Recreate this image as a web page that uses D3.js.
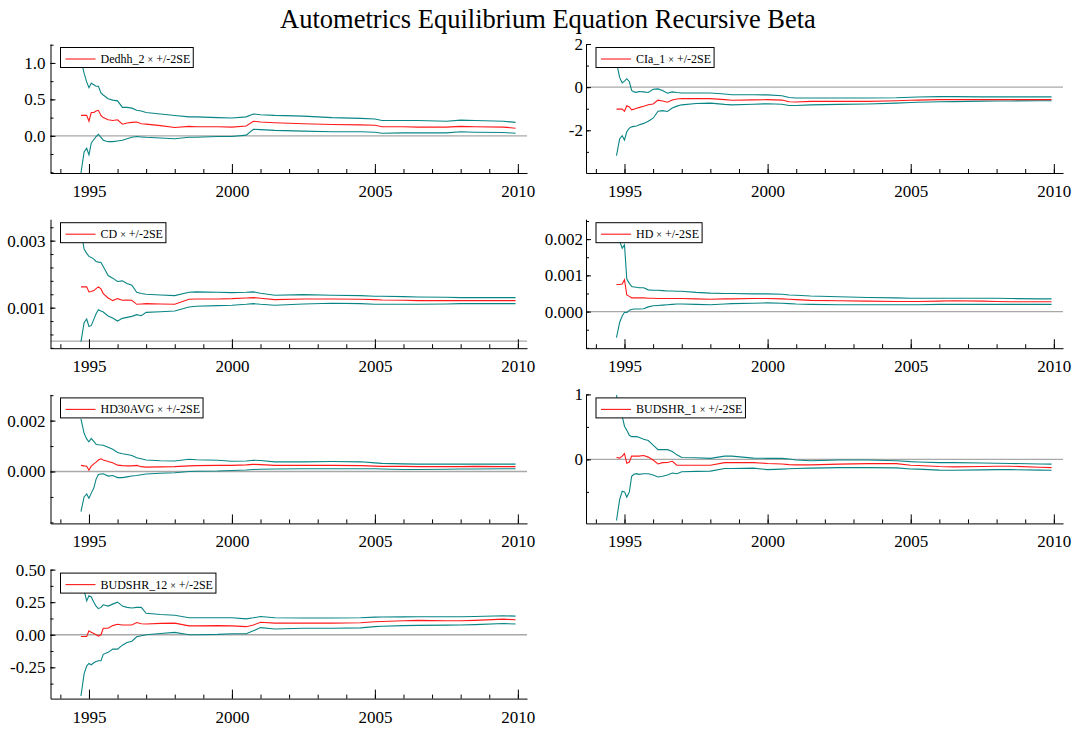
<!DOCTYPE html>
<html>
<head>
<meta charset="utf-8">
<script src="https://cdn.jsdelivr.net/npm/d3@7"></script>
<style>
  body { margin: 0; background: #ffffff; }
  svg { display: block; }
</style>
</head>
<body>
<svg id="chart" width="1074" height="731"></svg>
<script>
// Sample dates (decimal years) shared by every recursive estimate
const dates = [1994.72, 1994.83, 1994.92, 1995.0, 1995.08, 1995.17, 1995.25, 1995.33, 1995.42, 1995.5,
  1995.67, 1995.83, 1996.0, 1996.17, 1996.33, 1996.5, 1996.67, 1996.83, 1997.0, 1997.5,
  1998.0, 1998.5, 1998.75, 1999.5, 2000.0, 2000.5, 2000.75, 2001.0, 2001.5, 2002.5,
  2003.5, 2004.5, 2005.0, 2005.25, 2006.0, 2006.5, 2007.5, 2008.0, 2008.5, 2009.5, 2009.92];

// Dedhh_2
const dedhhBeta = [0.28, 0.28, 0.28, 0.20, 0.32, 0.32, 0.34, 0.35, 0.28, 0.25, 0.22, 0.21, 0.22, 0.16, 0.175, 0.185, 0.19, 0.165, 0.16, 0.14,
  0.115, 0.13, 0.125, 0.125, 0.12, 0.135, 0.20, 0.19, 0.18, 0.165, 0.155, 0.15, 0.145, 0.125, 0.125, 0.12, 0.12, 0.13, 0.125, 0.12, 0.105];
const dedhhUpper = [1.04, 0.86, 0.74, 0.66, 0.72, 0.70, 0.68, 0.68, 0.59, 0.56, 0.51, 0.49, 0.48, 0.39, 0.39, 0.38, 0.35, 0.34, 0.32, 0.30,
  0.28, 0.26, 0.26, 0.25, 0.245, 0.26, 0.30, 0.29, 0.28, 0.27, 0.25, 0.24, 0.23, 0.21, 0.21, 0.21, 0.20, 0.215, 0.21, 0.20, 0.185];
const dedhhLower = [-0.51, -0.22, -0.17, -0.26, -0.10, -0.05, -0.01, 0.02, -0.02, -0.06, -0.08, -0.08, -0.07, -0.06, -0.04, -0.02, -0.01, -0.015, -0.02, -0.03,
  -0.04, -0.02, -0.02, -0.01, -0.01, 0.01, 0.09, 0.085, 0.075, 0.065, 0.055, 0.055, 0.05, 0.035, 0.04, 0.04, 0.04, 0.055, 0.05, 0.045, 0.035];

// CIa_1
const ciaBeta = [-1.02, -1.02, -1.02, -1.12, -0.86, -0.92, -1.05, -1.02, -0.98, -0.95, -0.89, -0.82, -0.78, -0.60, -0.64, -0.70, -0.60, -0.55, -0.53, -0.53,
  -0.53, -0.58, -0.61, -0.59, -0.58, -0.60, -0.68, -0.69, -0.66, -0.66, -0.66, -0.63, -0.61, -0.60, -0.58, -0.58, -0.58, -0.58, -0.58, -0.58, -0.58];
const ciaUpper = [1.15, 0.45, 0.20, 0.28, 0.39, 0.25, -0.15, -0.22, -0.24, -0.20, -0.22, -0.25, -0.10, -0.08, -0.16, -0.28, -0.22, -0.25, -0.27, -0.27,
  -0.27, -0.32, -0.35, -0.35, -0.36, -0.40, -0.48, -0.50, -0.50, -0.50, -0.50, -0.49, -0.47, -0.46, -0.44, -0.44, -0.45, -0.45, -0.45, -0.45, -0.45];
const ciaLower = [-3.17, -2.40, -2.25, -2.45, -2.07, -1.90, -1.84, -1.82, -1.80, -1.76, -1.68, -1.58, -1.44, -1.12, -1.09, -1.13, -0.97, -0.88, -0.82, -0.76,
  -0.74, -0.80, -0.82, -0.79, -0.77, -0.79, -0.85, -0.85, -0.82, -0.80, -0.78, -0.74, -0.71, -0.70, -0.68, -0.67, -0.65, -0.64, -0.64, -0.63, -0.63];

// CD
const cdBeta = [0.00162, 0.00162, 0.00162, 0.00147, 0.00148, 0.00151, 0.00157, 0.00162, 0.00156, 0.00142, 0.00129, 0.00121, 0.00127, 0.00122, 0.00123, 0.00122, 0.00110, 0.00111, 0.00112, 0.00111,
  0.00110, 0.00125, 0.00126, 0.00126, 0.00127, 0.00129, 0.00130, 0.00128, 0.00124, 0.00126, 0.00126, 0.00125, 0.00124, 0.00123, 0.00122, 0.00121, 0.00121, 0.00121, 0.00121, 0.00121, 0.00121];
const cdUpper = [0.00331, 0.00275, 0.00262, 0.00253, 0.00250, 0.00245, 0.00238, 0.00236, 0.00235, 0.00223, 0.00196, 0.00188, 0.00178, 0.00180, 0.00172, 0.00167, 0.00146, 0.00142, 0.00140, 0.00138,
  0.00136, 0.00146, 0.00147, 0.00146, 0.00145, 0.00146, 0.00147, 0.00143, 0.00137, 0.00139, 0.00137, 0.00136, 0.00134, 0.00134, 0.00133, 0.00132, 0.00131, 0.00130, 0.00130, 0.00130, 0.00130];
const cdLower = [-0.00002, 0.00055, 0.00066, 0.00044, 0.00047, 0.00065, 0.00082, 0.00094, 0.00090, 0.00087, 0.00075, 0.00069, 0.00060, 0.00068, 0.00071, 0.00074, 0.00079, 0.00076, 0.00086, 0.00088,
  0.00090, 0.00102, 0.00104, 0.00106, 0.00107, 0.00110, 0.00112, 0.00110, 0.00107, 0.00111, 0.00113, 0.00112, 0.00110, 0.00110, 0.00110, 0.00110, 0.00111, 0.00112, 0.00112, 0.00112, 0.00112];

// HD
const hdBeta = [0.00075, 0.00075, 0.00076, 0.00088, 0.00046, 0.00042, 0.00038, 0.00038, 0.00038, 0.00038, 0.00038, 0.00037, 0.00037, 0.00036, 0.00036, 0.00036, 0.00036, 0.00036, 0.00036, 0.00035,
  0.00034, 0.00035, 0.00035, 0.00036, 0.00036, 0.00035, 0.00034, 0.00033, 0.00031, 0.00030, 0.00029, 0.00028, 0.00028, 0.00028, 0.00029, 0.00030, 0.00029, 0.00028, 0.00027, 0.00027, 0.00027];
const hdUpper = [0.00224, 0.00195, 0.00175, 0.00184, 0.00090, 0.00078, 0.00069, 0.00068, 0.00067, 0.00066, 0.00066, 0.00060, 0.00059, 0.00059, 0.00058, 0.00057, 0.00057, 0.00056, 0.00056, 0.00053,
  0.00051, 0.00050, 0.00050, 0.00049, 0.00049, 0.00048, 0.00046, 0.00045, 0.00043, 0.00041, 0.00039, 0.00038, 0.00037, 0.00037, 0.00037, 0.00037, 0.00037, 0.00037, 0.00036, 0.00035, 0.00035];
const hdLower = [-0.00072, -0.00030, -0.00012, -0.00002, -0.00003, 0.00004, 0.00006, 0.00007, 0.00007, 0.00007, 0.00008, 0.00013, 0.00016, 0.00017, 0.00018, 0.00019, 0.00020, 0.00021, 0.00021, 0.00020,
  0.00019, 0.00021, 0.00022, 0.00023, 0.00024, 0.00023, 0.00022, 0.00021, 0.00020, 0.00019, 0.00019, 0.00019, 0.00019, 0.00019, 0.00020, 0.00020, 0.00020, 0.00020, 0.00020, 0.00020, 0.00020];

// HD30AVG
const hd30Beta = [0.00024, 0.00022, 0.00021, 0.00005, 0.00021, 0.00030, 0.00037, 0.00045, 0.00050, 0.00045, 0.00039, 0.00034, 0.00025, 0.00023, 0.00022, 0.00022, 0.00024, 0.00019, 0.00017, 0.00018,
  0.00019, 0.00022, 0.00023, 0.00024, 0.00024, 0.00026, 0.00028, 0.00027, 0.00024, 0.00024, 0.00024, 0.00023, 0.00021, 0.00020, 0.00020, 0.00019, 0.00019, 0.00019, 0.00020, 0.00019, 0.00019];
const hd30Upper = [0.00207, 0.00150, 0.00128, 0.00117, 0.00130, 0.00118, 0.00107, 0.00105, 0.00104, 0.00103, 0.00095, 0.00087, 0.00075, 0.00070, 0.00067, 0.00063, 0.00054, 0.00050, 0.00045, 0.00042,
  0.00041, 0.00048, 0.00046, 0.00044, 0.00040, 0.00041, 0.00044, 0.00043, 0.00038, 0.00038, 0.00039, 0.00038, 0.00034, 0.00032, 0.00030, 0.00029, 0.00029, 0.00029, 0.00029, 0.00029, 0.00029];
const hd30Lower = [-0.00158, -0.00100, -0.00088, -0.00105, -0.00085, -0.00065, -0.00030, -0.00012, -0.00010, -0.00009, -0.00018, -0.00016, -0.00024, -0.00024, -0.00021, -0.00018, -0.00016, -0.00013, -0.00010, -0.00007,
  -0.00005, 0.00000, 0.00001, 0.00002, 0.00004, 0.00006, 0.00008, 0.00009, 0.00010, 0.00011, 0.00011, 0.00011, 0.00011, 0.00010, 0.00008, 0.00008, 0.00009, 0.00010, 0.00010, 0.00011, 0.00011];

// BUDSHR_1
const bud1Beta = [0.03, 0.02, 0.05, 0.09, -0.06, -0.04, 0.05, 0.05, 0.05, 0.05, 0.06, 0.035, -0.01, -0.07, -0.05, -0.047, -0.03, -0.09, -0.09, -0.09,
  -0.09, -0.05, -0.05, -0.05, -0.063, -0.07, -0.08, -0.085, -0.085, -0.073, -0.065, -0.065, -0.09, -0.095, -0.11, -0.115, -0.11, -0.105, -0.105, -0.12, -0.126];
const bud1Upper = [0.99, 0.75, 0.66, 0.51, 0.45, 0.37, 0.35, 0.35, 0.35, 0.34, 0.31, 0.29, 0.22, 0.15, 0.15, 0.15, 0.12, 0.07, 0.03, 0.025,
  0.016, 0.05, 0.05, 0.02, 0.016, 0.016, 0.005, -0.01, -0.02, -0.01, -0.01, -0.02, -0.035, -0.04, -0.05, -0.05, -0.055, -0.06, -0.063, -0.07, -0.073];
const bud1Lower = [-0.94, -0.62, -0.49, -0.50, -0.58, -0.50, -0.26, -0.23, -0.22, -0.23, -0.22, -0.22, -0.24, -0.27, -0.26, -0.24, -0.21, -0.22, -0.19, -0.185,
  -0.18, -0.14, -0.14, -0.135, -0.157, -0.15, -0.145, -0.14, -0.135, -0.126, -0.126, -0.13, -0.147, -0.15, -0.165, -0.168, -0.162, -0.157, -0.157, -0.165, -0.168];

// BUDSHR_12
const bud12Beta = [-0.013, -0.013, -0.013, 0.03, 0.02, 0.01, 0.00, -0.01, 0.00, 0.05, 0.05, 0.07, 0.08, 0.075, 0.075, 0.075, 0.094, 0.085, 0.083, 0.087,
  0.089, 0.068, 0.068, 0.07, 0.068, 0.062, 0.075, 0.096, 0.089, 0.089, 0.089, 0.092, 0.10, 0.102, 0.107, 0.11, 0.108, 0.107, 0.11, 0.12, 0.115];
const bud12Upper = [0.44, 0.34, 0.26, 0.30, 0.29, 0.25, 0.22, 0.20, 0.21, 0.23, 0.22, 0.235, 0.25, 0.22, 0.21, 0.205, 0.21, 0.21, 0.165, 0.155,
  0.15, 0.13, 0.13, 0.13, 0.13, 0.122, 0.13, 0.14, 0.13, 0.128, 0.128, 0.13, 0.135, 0.136, 0.137, 0.138, 0.138, 0.138, 0.14, 0.146, 0.143];
const bud12Lower = [-0.47, -0.30, -0.24, -0.22, -0.23, -0.215, -0.205, -0.20, -0.20, -0.15, -0.135, -0.11, -0.11, -0.08, -0.06, -0.05, -0.016, -0.008, 0.0, 0.01,
  0.018, 0.0, 0.0, 0.003, 0.008, 0.008, 0.03, 0.055, 0.044, 0.05, 0.05, 0.053, 0.062, 0.065, 0.07, 0.072, 0.074, 0.075, 0.078, 0.086, 0.083];

const names = ["Dedhh_2", "CIa_1", "CD", "HD", "HD30AVG", "BUDSHR_1", "BUDSHR_12"];
const betas = [dedhhBeta, ciaBeta, cdBeta, hdBeta, hd30Beta, bud1Beta, bud12Beta];
const uppers = [dedhhUpper, ciaUpper, cdUpper, hdUpper, hd30Upper, bud1Upper, bud12Upper];
const lowers = [dedhhLower, ciaLower, cdLower, hdLower, hd30Lower, bud1Lower, bud12Lower];

// Axis extents and tick labels
const yDomains = [[-0.51, 1.26], [-3.98, 2.0], [-0.00021, 0.00364], [-0.00101, 0.00255],
  [-0.00204, 0.00303], [-0.985, 1.0], [-0.49, 0.5]];
const yLabelTicks = [[0, 0.5, 1.0], [-2, 0, 2], [0.001, 0.003], [0, 0.001, 0.002],
  [0, 0.002], [0, 1], [-0.25, 0, 0.25, 0.5]];
const yMinorSteps = [0.25, 1, 0.0004, 0.0005, 0.001, 0.5, 0.125];
const yDecimals = [1, 0, 3, 3, 3, 0, 2];
const xDomain = [1993.655, 2010.32];
const xLabelYears = [1995, 2000, 2005, 2010];
const xMinorYears = d3.range(1994, 2011);

const chartTitle = "Autometrics Equilibrium Equation Recursive Beta";

const FONT = "'Liberation Serif', 'Times New Roman', Times, serif";
const TEAL = "#0a8585";
const RED = "#ff1a1a";

const svg = d3.select("#chart");

svg.append("text")
  .attr("x", 548).attr("y", 28)
  .attr("text-anchor", "middle")
  .attr("font-family", FONT)
  .attr("font-size", 26.5)
  .attr("fill", "#000")
  .text(chartTitle);

const cols = [{ x0: 50.5, x1: 527, pad: 5 }, { x0: 586, x1: 1063, pad: 3 }];
const rowTop0 = 44, rowH = 129, rowStep = 175.2;

const fmtLocale = d3.formatLocale({ decimal: ".", thousands: ",", grouping: [3], currency: ["", ""], minus: "-" });

names.forEach((name, i) => {
  const col = cols[i % 2];
  const top = rowTop0 + Math.floor(i / 2) * rowStep;
  const bottom = top + rowH;

  const x = d3.scaleLinear().domain(xDomain).range([col.x0, col.x1]);
  const y = d3.scaleLinear().domain(yDomains[i]).range([bottom, top]);

  const g = svg.append("g");

  const clipId = "clip" + i;
  g.append("clipPath").attr("id", clipId)
    .append("rect")
    .attr("x", col.x0).attr("y", top)
    .attr("width", col.x1 - col.x0).attr("height", bottom - top);

  // zero reference line
  if (yDomains[i][0] < 0 && yDomains[i][1] > 0) {
    g.append("line")
      .attr("x1", col.x0).attr("x2", col.x1)
      .attr("y1", y(0)).attr("y2", y(0))
      .attr("stroke", "#a8a8a8").attr("stroke-width", 1.4);
  }

  const line = d3.line().x((d, k) => x(dates[k])).y(d => y(d));
  const plot = g.append("g").attr("clip-path", `url(#${clipId})`);
  [uppers[i], lowers[i]].forEach(s => {
    plot.append("path").datum(s)
      .attr("d", line).attr("fill", "none")
      .attr("stroke", TEAL).attr("stroke-width", 1.1);
  });
  plot.append("path").datum(betas[i])
    .attr("d", line).attr("fill", "none")
    .attr("stroke", RED).attr("stroke-width", 1.1);

  // x axis: yearly minor ticks, labelled ticks every five years
  g.append("g").attr("transform", `translate(0,${bottom})`)
    .call(d3.axisBottom(x).tickValues(xMinorYears).tickSize(-4).tickSizeOuter(0).tickFormat(""));
  const xMajor = g.append("g").attr("transform", `translate(0,${bottom})`)
    .call(d3.axisBottom(x).tickValues(xLabelYears).tickSize(-9).tickSizeOuter(0).tickPadding(12).tickFormat(d3.format("d")));
  xMajor.select(".domain").remove();

  // y axis
  const [lo, hi] = yDomains[i];
  const step = yMinorSteps[i];
  const anchor = yLabelTicks[i][0];
  const minor = [];
  for (let v = anchor - Math.floor((anchor - lo) / step + 1e-9) * step; v <= hi + 1e-12; v += step) {
    minor.push(+v.toPrecision(10));
  }
  g.append("g").attr("transform", `translate(${col.x0},0)`)
    .call(d3.axisLeft(y).tickValues(minor).tickSize(-3).tickSizeOuter(0).tickFormat(""));
  const yMajor = g.append("g").attr("transform", `translate(${col.x0},0)`)
    .call(d3.axisLeft(y).tickValues(yLabelTicks[i]).tickSize(-5).tickSizeOuter(0)
      .tickPadding(col.pad).tickFormat(fmtLocale.format(`.${yDecimals[i]}f`)));
  yMajor.select(".domain").remove();

  g.selectAll(".tick text")
    .attr("font-family", FONT).attr("font-size", 17).attr("fill", "#000");
  g.selectAll(".domain, .tick line").attr("stroke", "#000").attr("stroke-width", 1);

  // legend
  const lg = g.append("g").attr("transform", `translate(${col.x0 + 10},${top + 3.5})`);
  const box = lg.append("rect")
    .attr("x", 0).attr("y", 0).attr("height", 20)
    .attr("fill", "#fff").attr("stroke", "#000").attr("stroke-width", 1);
  lg.append("line")
    .attr("x1", 5).attr("x2", 35).attr("y1", 11.5).attr("y2", 11.5)
    .attr("stroke", RED).attr("stroke-width", 1.1);
  const txt = lg.append("text")
    .attr("x", 40).attr("y", 15.5)
    .attr("font-family", FONT).attr("font-size", 12).attr("fill", "#000");
  txt.append("tspan").text(name + " ");
  txt.append("tspan").attr("font-size", 10).text("\u00d7");
  txt.append("tspan").text(" +/-2SE");
  const w = txt.node().getComputedTextLength();
  box.attr("width", 40 + w + 3);
});
</script>
</body>
</html>
